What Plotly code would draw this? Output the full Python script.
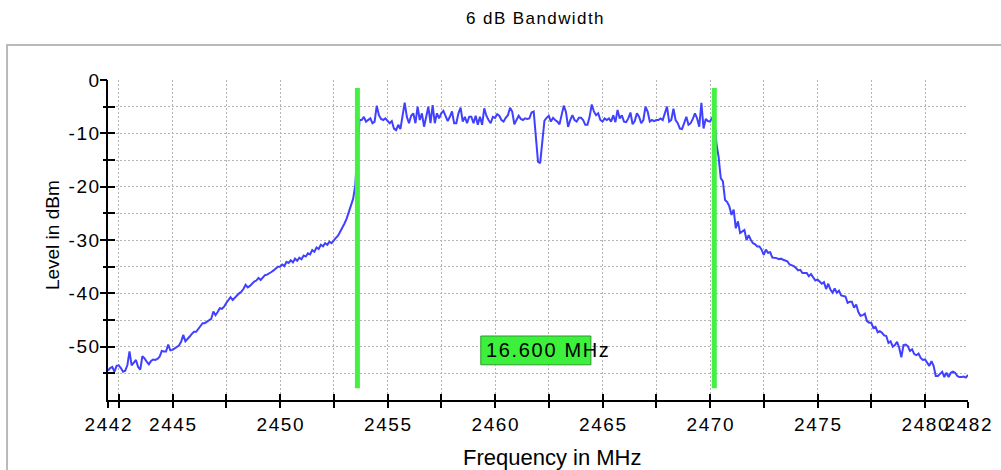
import numpy as np
import plotly.graph_objects as go

# Sweep: start/stop frequency of the analyzer trace (MHz), 0.1 MHz per point
F_START = 2442.0
F_STOP = 2482.0

# Measured level per sweep point (dBm), one row per MHz
LEVEL_DBM = [
    -54.5, -54.0, -53.8, -54.7, -53.6, -53.5, -54.0, -54.7, -54.5, -53.5,   # 2442
    -50.9, -53.5, -53.0, -52.5, -53.8, -54.3, -51.8, -52.2, -52.8, -53.3,   # 2443
    -52.7, -52.4, -52.5, -52.3, -51.9, -50.8, -50.9, -50.9, -49.6, -50.7,   # 2444
    -50.6, -50.3, -50.0, -49.8, -49.1, -47.8, -49.0, -48.6, -48.1, -47.6,   # 2445
    -47.2, -47.2, -46.6, -46.1, -45.6, -45.6, -45.3, -45.0, -44.8, -43.4,   # 2446
    -44.1, -43.5, -42.8, -42.9, -42.5, -41.8, -41.2, -40.7, -41.25, -40.8,  # 2447
    -40.4, -40.0, -39.7, -39.2, -38.4, -38.9, -38.6, -38.1, -37.8, -37.6,   # 2448
    -37.1, -37.5, -37.0, -36.6, -36.5, -36.3, -36.0, -35.7, -35.4, -35.0,   # 2449
    -35.0, -34.6, -34.9, -34.1, -34.3, -33.8, -34.2, -33.5, -33.9, -33.3,   # 2450
    -33.6, -32.9, -33.1, -32.5, -32.7, -31.9, -32.2, -31.4, -31.7, -30.9,   # 2451
    -31.2, -30.6, -30.9, -30.3, -30.6, -30.0, -29.6, -29.2, -28.5, -27.8,   # 2452
    -26.9, -26.0, -24.9, -23.7, -22.3, -19.8, -14.0, -7.5, -7.5, -6.9,      # 2453
    -7.8, -7.5, -7.2, -8.1, -7.8, -4.8, -6.6, -7.3, -7.5, -7.2,             # 2454
    -7.7, -8.1, -7.7, -9.1, -9.4, -8.4, -9.2, -6.6, -4.25, -6.9,            # 2455
    -8.1, -6.7, -6.25, -8.1, -5.0, -7.5, -6.25, -8.75, -6.6, -5.0,          # 2456
    -8.1, -4.7, -8.1, -6.25, -7.2, -6.25, -5.8, -6.6, -7.7, -6.9,           # 2457
    -5.9, -8.1, -8.1, -6.25, -5.2, -7.8, -6.9, -8.1, -6.9, -6.9,            # 2458
    -8.1, -6.7, -8.4, -6.9, -8.4, -5.3, -6.7, -7.5, -8.1, -6.9,             # 2459
    -7.1, -6.4, -6.7, -7.5, -7.8, -7.1, -6.6, -5.2, -5.9, -8.3,             # 2460
    -7.5, -6.7, -7.3, -7.5, -7.2, -7.3, -7.2, -6.1, -5.9, -10.6,            # 2461
    -15.3, -15.6, -11.5, -7.6, -7.1, -6.7, -7.8, -7.1, -7.5, -7.8,          # 2462
    -8.3, -6.7, -4.8, -6.0, -8.8, -7.5, -6.6, -7.5, -7.8, -7.1,             # 2463
    -7.1, -7.5, -8.4, -8.4, -6.9, -4.6, -5.9, -6.6, -6.25, -7.5,            # 2464
    -7.8, -7.2, -7.5, -7.2, -7.8, -6.6, -7.9, -5.6, -7.2, -6.6,             # 2465
    -7.8, -7.9, -7.2, -6.1, -8.3, -7.7, -6.25, -6.9, -8.1, -7.5,            # 2466
    -5.0, -5.9, -7.8, -7.5, -7.7, -7.5, -7.5, -7.2, -7.5, -6.25,            # 2467
    -5.0, -7.8, -7.5, -5.4, -7.5, -8.1, -9.1, -9.2, -8.1, -6.9,             # 2468
    -8.4, -8.1, -7.3, -6.25, -7.2, -8.75, -4.3, -9.1, -7.3, -7.7,           # 2469
    -7.8, -7.1, -6.9, -12.0, -14.4, -18.4, -19.0, -22.5, -22.9, -23.7,      # 2470
    -25.3, -24.3, -27.8, -26.5, -28.7, -28.4, -28.1, -30.0, -29.1, -30.0,   # 2471
    -30.6, -30.8, -31.2, -31.2, -31.8, -32.8, -31.8, -32.4, -32.3, -33.3,   # 2472
    -33.3, -33.4, -33.6, -33.5, -33.7, -33.9, -34.0, -34.6, -34.75, -34.9,  # 2473
    -35.25, -35.7, -35.6, -36.2, -36.2, -36.2, -36.8, -36.4, -37.0, -37.6,  # 2474
    -37.4, -37.9, -38.2, -37.9, -39.2, -38.2, -39.3, -39.9, -39.1, -39.9,   # 2475
    -39.5, -40.4, -40.5, -40.6, -41.8, -41.6, -41.6, -42.7, -42.1, -43.5,   # 2476
    -44.2, -44.1, -43.8, -45.2, -45.5, -45.5, -46.5, -46.3, -47.3, -47.1,   # 2477
    -47.4, -47.9, -48.0, -49.3, -49.0, -50.0, -49.7, -49.1, -50.2, -52.0,   # 2478
    -49.7, -49.6, -49.9, -50.8, -50.5, -51.4, -51.6, -51.3, -52.1, -52.5,   # 2479
    -52.4, -52.9, -53.6, -52.7, -53.6, -55.5, -55.5, -55.1, -54.7, -55.7,   # 2480
    -54.9, -55.7, -54.9, -54.7, -54.9, -55.5, -55.7, -55.7, -55.6, -55.8,   # 2481
    -55.3,                                                                  # 2482
]

# 6 dB bandwidth markers (MHz)
F_LOW = 2453.6
F_HIGH = 2470.2

# Axis ticks
X_TICKS = [2442, 2442.5, 2445, 2447.5, 2450, 2452.5, 2455, 2457.5, 2460, 2462.5,
           2465, 2467.5, 2470, 2472.5, 2475, 2477.5, 2480, 2482]
X_LABELED = [2442, 2445, 2450, 2455, 2460, 2465, 2470, 2475, 2480, 2482]
Y_TICKS = [0, -5, -10, -15, -20, -25, -30, -35, -40, -45, -50, -55]
Y_LABELED = [0, -10, -20, -30, -40, -50]

TITLE = "6 dB Bandwidth"
X_TITLE = "Frequency in MHz"
Y_TITLE = "Level in dBm"

SANS = "Liberation Sans, Arial, sans-serif"
GRID = "#b4b4b4"
TRACE_BLUE = "#4040ff"
MARKER_GREEN = "#44f044"


def spaced(text):
    """Letter-spaced label, as the analyzer software prints it."""
    return "\u200a".join(text)


def fmt(v):
    return str(int(v)) if float(v).is_integer() else str(v)


freq = np.linspace(F_START, F_STOP, len(LEVEL_DBM))

fig = go.Figure()
fig.add_trace(go.Scatter(
    x=freq, y=LEVEL_DBM, mode="lines",
    line=dict(color=TRACE_BLUE, width=2),
    hoverinfo="x+y", showlegend=False,
))
# empty traces so the overlay axes (extra tick sets) get drawn
fig.add_trace(go.Scatter(x=[], y=[], xaxis="x2", yaxis="y", showlegend=False))
fig.add_trace(go.Scatter(x=[], y=[], xaxis="x", yaxis="y2", showlegend=False))
fig.add_trace(go.Scatter(x=[], y=[], xaxis="x", yaxis="y3", showlegend=False))

tick_font = dict(family=SANS, size=19, color="#000000")

x_range = [F_START, F_STOP]
y_range = [-60, 0]

fig.update_layout(
    width=1001, height=470,
    margin=dict(l=108, r=33, t=80, b=70),
    paper_bgcolor="white", plot_bgcolor="white",
    showlegend=False,
    xaxis=dict(
        range=x_range, tickmode="array", tickvals=X_TICKS,
        ticktext=[spaced(fmt(v)) if v in X_LABELED else "" for v in X_TICKS],
        tickangle=0, tickfont=tick_font, automargin=False,
        ticks="outside", ticklen=6, tickwidth=2, tickcolor="black",
        showline=True, linecolor="black", linewidth=2,
        showgrid=True, gridcolor=GRID, gridwidth=1, griddash="2px,2px",
        zeroline=False, fixedrange=True,
    ),
    xaxis2=dict(
        range=x_range, overlaying="x", anchor="y", side="bottom",
        tickmode="array", tickvals=X_TICKS, showticklabels=False,
        ticks="inside", ticklen=6, tickwidth=2, tickcolor="black", automargin=False,
        showline=False, showgrid=False, zeroline=False, fixedrange=True,
    ),
    yaxis=dict(
        range=y_range, tickmode="array", tickvals=Y_TICKS,
        ticktext=[spaced(fmt(v)) if v in Y_LABELED else "" for v in Y_TICKS],
        tickfont=tick_font, automargin=False,
        ticks="outside", ticklen=3, tickwidth=2, tickcolor="black",
        showline=True, linecolor="black", linewidth=2,
        showgrid=True, gridcolor=GRID, gridwidth=1, griddash="2px,2px",
        zeroline=False, fixedrange=True,
    ),
    yaxis2=dict(
        range=y_range, overlaying="y", anchor="x", side="left",
        tickmode="array", tickvals=Y_LABELED, showticklabels=False,
        ticks="outside", ticklen=7, tickwidth=2, tickcolor="black", automargin=False,
        showline=False, showgrid=False, zeroline=False, fixedrange=True,
    ),
    yaxis3=dict(
        range=y_range, overlaying="y", anchor="x", side="left",
        tickmode="array", tickvals=Y_TICKS, showticklabels=False,
        ticks="inside", ticklen=7, tickwidth=2, tickcolor="black", automargin=False,
        showline=False, showgrid=False, zeroline=False, fixedrange=True,
    ),
)

# group-box frame around the chart area
fig.add_shape(type="rect", xref="paper", yref="paper",
              x0=-0.1174, x1=1.045, y0=-0.25, y1=1.109,
              line=dict(color="#b9b9b9", width=2), fillcolor="rgba(0,0,0,0)",
              layer="below")

# bandwidth marker lines
for f in (F_LOW, F_HIGH):
    fig.add_shape(type="line", xref="x", yref="y",
                  x0=f, x1=f, y0=-1.5, y1=-57.8,
                  line=dict(color=MARKER_GREEN, width=5), layer="above")

# bandwidth readout box between the markers
mid = (F_LOW + F_HIGH) / 2
half_w = 2.56
fig.add_shape(type="rect", xref="x", yref="y",
              x0=mid - half_w, x1=mid + half_w, y0=-53.4, y1=-48.0,
              fillcolor="#3cf03c", line=dict(color="#2a9a2a", width=1),
              layer="above")
fig.add_annotation(
    x=mid - half_w + 0.14, y=-50.7, xref="x", yref="y",
    xanchor="left", yanchor="middle", showarrow=False,
    text=spaced(f"{F_HIGH - F_LOW:.3f} MHz"),
    font=dict(family=SANS, size=20, color="#000000"),
)

# title and axis titles
fig.add_annotation(
    x=0.4965, y=1.192, xref="paper", yref="paper",
    xanchor="center", yanchor="middle", showarrow=False,
    text=spaced(TITLE), font=dict(family=SANS, size=17, color="#000000"),
)
fig.add_annotation(
    x=-0.0650, y=0.5156, xref="paper", yref="paper",
    xanchor="center", yanchor="middle", showarrow=False, textangle=-90,
    text=Y_TITLE, font=dict(family=SANS, size=19, color="#000000"),
)
fig.add_annotation(
    x=0.5174, y=-0.18, xref="paper", yref="paper",
    xanchor="center", yanchor="middle", showarrow=False,
    text=X_TITLE, font=dict(family=SANS, size=22, color="#000000"),
)

fig.write_html("out.html")
